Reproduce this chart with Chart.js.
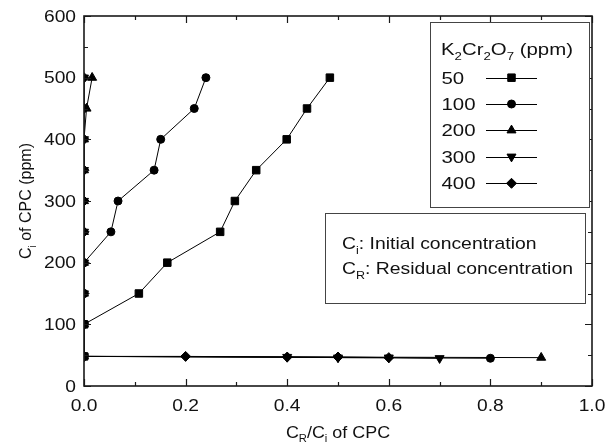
<!DOCTYPE html>
<html><head><meta charset="utf-8">
<script src="https://cdn.jsdelivr.net/npm/chart.js@4"></script>
<style>html,body{margin:0;padding:0;background:#fff}#wrap{width:611px;height:445px;position:relative}</style>
</head><body><div id="wrap"><canvas id="c" width="611" height="445"></canvas></div>
<script>
// ---- data (x = C_R/C_i of CPC, y = C_i of CPC in ppm) ----
const legendLabels = ['50', '100', '200', '300', '400'];
const xTickLabels = ['0.0', '0.2', '0.4', '0.6', '0.8', '1.0'];
const yTickLabels = ['0', '100', '200', '300', '400', '500', '600'];

const s50x  = [0, 0, 0.108, 0.164, 0.268, 0.297, 0.339, 0.399, 0.439, 0.484];
const s50y  = [48, 100, 150, 200, 250, 300, 350, 400, 450, 500];
const s100x = [0.8, 0, 0, 0, 0, 0.053, 0.067, 0.138, 0.151, 0.217, 0.240];
const s100y = [45, 48, 100, 150, 200, 250, 300, 350, 400, 450, 500];
const s200x = [0.9, 0, 0, 0, 0, 0, 0, 0, 0, 0.005, 0.016];
const s200y = [46, 48, 100, 150, 200, 250, 300, 350, 400, 450, 500];
const s300x = [0.7, 0.6, 0.5, 0.4, 0, 0, 0, 0, 0, 0, 0, 0, 0, 0];
const s300y = [45, 46, 46, 47, 48, 100, 150, 200, 250, 300, 350, 400, 450, 500];
const s400x = [0.6, 0.5, 0.4, 0.2, 0, 0, 0, 0, 0, 0, 0, 0, 0, 0];
const s400y = [46, 47, 47, 48, 48, 100, 150, 200, 250, 300, 350, 400, 450, 500];

const FF = '"Liberation Sans", Arial, sans-serif';
const styles = [
  {pointStyle: 'rect', radius: 5.3, rotation: 0},
  {pointStyle: 'circle', radius: 4, rotation: 0},
  {pointStyle: 'triangle', radius: 5.2, rotation: 0},
  {pointStyle: 'triangle', radius: 5.2, rotation: 180},
  {pointStyle: 'rectRot', radius: 5, rotation: 0}
];
const seriesX = [s50x, s100x, s200x, s300x, s400x];
const seriesY = [s50y, s100y, s200y, s300y, s400y];

const datasets = legendLabels.map((lab, k) => ({
  label: lab,
  data: seriesX[k].map((x, i) => ({x: x, y: seriesY[k][i]})),
  showLine: true,
  borderColor: '#000', backgroundColor: '#000', borderWidth: 1,
  pointStyle: styles[k].pointStyle, pointRadius: styles[k].radius, pointRotation: styles[k].rotation,
  pointHoverRadius: styles[k].radius,
  pointBorderWidth: 1, pointBorderColor: '#000', pointBackgroundColor: '#000',
  clip: {left: 0, top: false, right: false, bottom: false}
}));

// draws text parts (with subscripts), horizontally stretched by sx
function rich(ctx, parts, x, y, size, sx) {
  sx = sx || 1;
  ctx.save();
  ctx.translate(x, y);
  ctx.scale(sx, 1);
  let cx = 0;
  for (const p of parts) {
    if (p.sub) {
      ctx.font = Math.round(size * 0.65) + 'px ' + FF;
      ctx.fillText(p.t, cx, size * 0.3);
    } else {
      ctx.font = size + 'px ' + FF;
      ctx.fillText(p.t, cx, 0);
    }
    cx += ctx.measureText(p.t).width;
  }
  ctx.restore();
  return x + cx * sx;
}
function richWidth(ctx, parts, size, sx) {
  let w = 0;
  for (const p of parts) {
    ctx.font = (p.sub ? Math.round(size * 0.65) : size) + 'px ' + FF;
    w += ctx.measureText(p.t).width;
  }
  return w * (sx || 1);
}

const decor = {
  id: 'decor',
  afterDraw(chart) {
    const ctx = chart.ctx, a = chart.chartArea;
    const xs = chart.scales.x, ys = chart.scales.y;
    ctx.save();
    ctx.strokeStyle = '#1a1a1a';
    ctx.fillStyle = '#1a1a1a';
    // ticks inward on all four sides
    ctx.lineWidth = 1.2;
    const xt = xs.ticks.map(t => t.value), yt = ys.ticks.map(t => t.value);
    const drawX = (v, len) => {
      const p = Math.round(xs.getPixelForValue(v)) + 0.5;
      ctx.beginPath(); ctx.moveTo(p, a.bottom); ctx.lineTo(p, a.bottom - len);
      ctx.moveTo(p, a.top); ctx.lineTo(p, a.top + len); ctx.stroke();
    };
    const drawY = (v, len) => {
      const p = Math.round(ys.getPixelForValue(v)) + 0.5;
      ctx.beginPath(); ctx.moveTo(a.left, p); ctx.lineTo(a.left + len, p);
      ctx.moveTo(a.right, p); ctx.lineTo(a.right - len, p); ctx.stroke();
    };
    xt.forEach((v, i) => { drawX(v, 7); if (i < xt.length - 1) drawX((v + xt[i + 1]) / 2, 4); });
    yt.forEach((v, i) => { drawY(v, 7); if (i < yt.length - 1) drawY((v + yt[i + 1]) / 2, 4); });
    // frame
    ctx.lineWidth = 1.6;
    ctx.strokeRect(a.left, a.top, a.right - a.left, a.bottom - a.top);

    ctx.fillStyle = '#111';
    ctx.textBaseline = 'alphabetic';
    ctx.textAlign = 'left';
    // tick labels
    const TS = 16, TSX = 1.2;
    xs.ticks.forEach((t, i) => {
      const parts = [{t: xTickLabels[i]}];
      const w = richWidth(ctx, parts, TS, TSX);
      rich(ctx, parts, xs.getPixelForValue(t.value) - w / 2, 411, TS, TSX);
    });
    ys.ticks.forEach((t, i) => {
      const parts = [{t: yTickLabels[i]}];
      const w = richWidth(ctx, parts, TS, TSX);
      rich(ctx, parts, 76 - w, ys.getPixelForValue(t.value) + 5.7, TS, TSX);
    });
    // x title
    const xtParts = [{t: 'C'}, {t: 'R', sub: 1}, {t: '/C'}, {t: 'i', sub: 1}, {t: ' of CPC'}];
    const xw = richWidth(ctx, xtParts, 16, 1.12);
    rich(ctx, xtParts, (a.left + a.right) / 2 - xw / 2, 437.5, 16, 1.12);
    // y title
    const ytParts = [{t: 'C'}, {t: 'i', sub: 1}, {t: ' of CPC (ppm)'}];
    const yw = richWidth(ctx, ytParts, 16);
    ctx.save();
    ctx.translate(31, (a.top + a.bottom) / 2);
    ctx.rotate(-Math.PI / 2);
    rich(ctx, ytParts, -yw / 2, 0, 16);
    ctx.restore();

    // legend box
    ctx.fillStyle = '#fff';
    ctx.fillRect(430, 22, 159, 185);
    ctx.strokeStyle = '#444';
    ctx.lineWidth = 1;
    ctx.strokeRect(430.5, 22.5, 159, 185);
    ctx.fillStyle = '#111';
    rich(ctx, [{t: 'K'}, {t: '2', sub: 1}, {t: 'Cr'}, {t: '2', sub: 1}, {t: 'O'}, {t: '7', sub: 1}, {t: ' (ppm)'}], 441, 54.5, 17, 1.2);
    const rowY = [77.7, 104, 130.3, 156.7, 183.3];
    legendLabels.forEach((lab, k) => {
      const y = rowY[k];
      ctx.fillStyle = '#111';
      rich(ctx, [{t: lab}], 441.5, y + 6.1, 17, 1.2);
      ctx.strokeStyle = '#000';
      ctx.lineWidth = 1;
      ctx.beginPath(); ctx.moveTo(486, Math.round(y) + 0.5); ctx.lineTo(537, Math.round(y) + 0.5); ctx.stroke();
      ctx.fillStyle = '#000';
      Chart.helpers.drawPoint(ctx, {pointStyle: styles[k].pointStyle, radius: styles[k].radius, rotation: styles[k].rotation, borderWidth: 1}, 511.5, y);
    });

    // definitions box
    ctx.fillStyle = '#fff';
    ctx.fillRect(325, 213, 260, 90);
    ctx.strokeStyle = '#444';
    ctx.strokeRect(325.5, 213.5, 260, 90);
    ctx.fillStyle = '#111';
    rich(ctx, [{t: 'C'}, {t: 'i', sub: 1}, {t: ': Initial concentration'}], 342, 249, 17, 1.14);
    rich(ctx, [{t: 'C'}, {t: 'R', sub: 1}, {t: ': Residual concentration'}], 342, 273.5, 17, 1.14);
    ctx.restore();
  }
};

new Chart(document.getElementById('c'), {
  type: 'scatter',
  data: {datasets: datasets},
  options: {
    responsive: false, animation: false, devicePixelRatio: 1,
    layout: {padding: {left: 0, right: 19, top: 16, bottom: 0}},
    plugins: {legend: {display: false}, tooltip: {enabled: false}},
    scales: {
      x: {
        type: 'linear', min: 0, max: 1,
        ticks: {display: false, stepSize: 0.2, maxRotation: 0},
        grid: {display: false, drawTicks: false}, border: {display: false},
        afterFit: s => { s.height = 445 - 386; }
      },
      y: {
        type: 'linear', min: 0, max: 600,
        ticks: {display: false, stepSize: 100},
        grid: {display: false, drawTicks: false}, border: {display: false},
        afterFit: s => { s.width = 84; }
      }
    }
  },
  plugins: [decor]
});
</script></body></html>
